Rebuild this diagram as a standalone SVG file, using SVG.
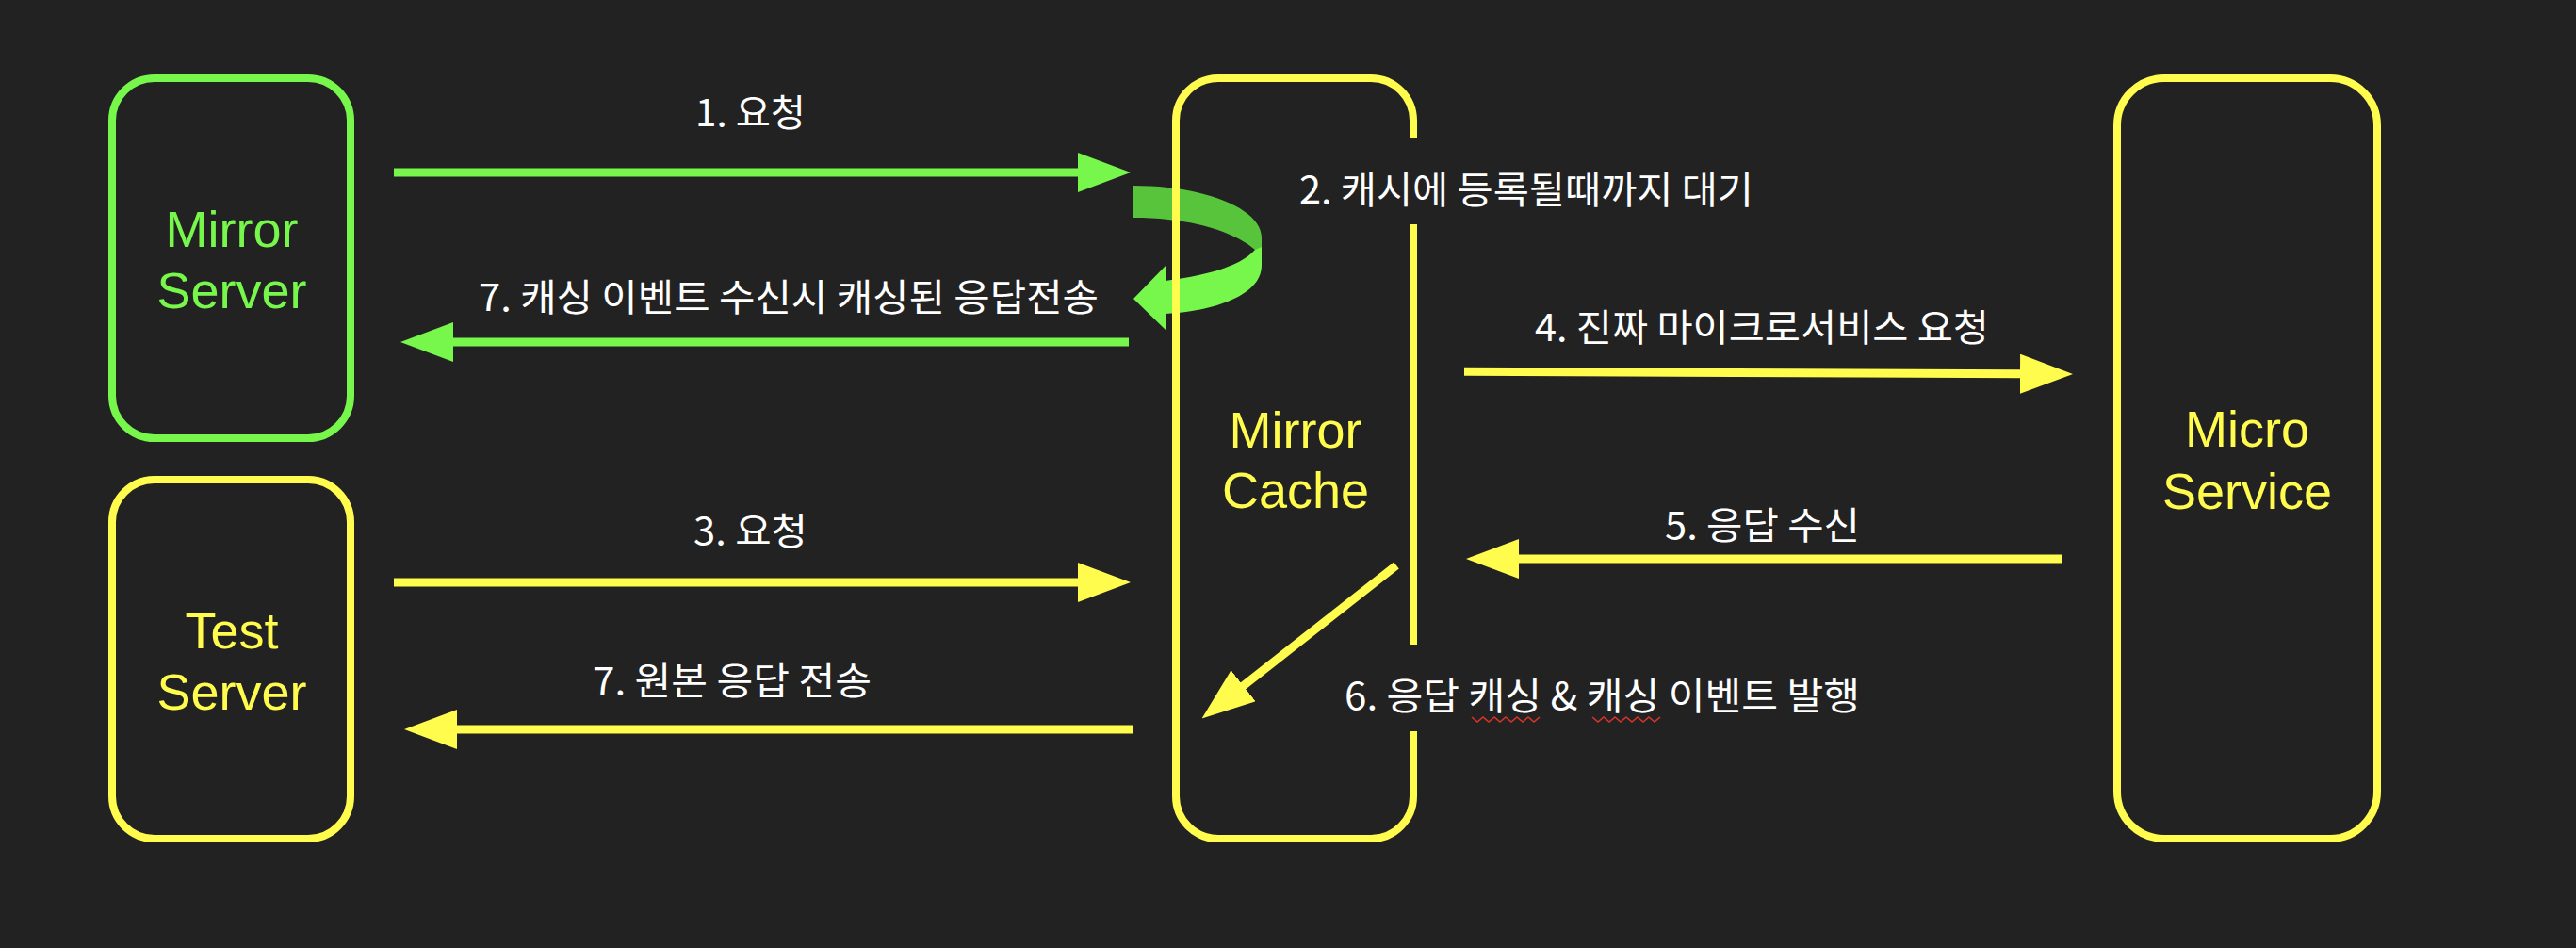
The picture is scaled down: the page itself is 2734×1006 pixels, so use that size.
<svg xmlns="http://www.w3.org/2000/svg" width="2734" height="1006" viewBox="0 0 2734 1006">
<style>
.box{fill:none;stroke-width:8}
.g{stroke:#77F74B}
.y{stroke:#FFFC4E}
.name{font-family:"Liberation Sans",Arial,sans-serif;font-size:54px;text-anchor:middle}
.ng{fill:#77F74B}
.ny{fill:#FFFC4E}
.lbl{font-family:"Noto Sans CJK KR","Noto Sans",sans-serif;font-size:40px;fill:#FFFFFF}
.ln{fill:none;stroke-width:9}
.sq{fill:none;stroke:#D4342C;stroke-width:1.6}
</style>
<defs>
<marker id="hg" viewBox="0 0 56 42" refX="2" refY="21" markerWidth="56" markerHeight="42" markerUnits="userSpaceOnUse" orient="auto"><path d="M0,0 L56,21 L0,42 Z" fill="#77F74B"/></marker>
<marker id="hy" viewBox="0 0 56 42" refX="2" refY="21" markerWidth="56" markerHeight="42" markerUnits="userSpaceOnUse" orient="auto"><path d="M0,0 L56,21 L0,42 Z" fill="#FFFC4E"/></marker>
</defs>
<rect x="0" y="0" width="2734" height="1006" fill="#222222"/>

<g id="connectors">
  <line class="ln g" x1="418" y1="183" x2="1146" y2="183" marker-end="url(#hg)"/>
  <line class="ln g" x1="1198" y1="363" x2="479" y2="363" marker-end="url(#hg)"/>
  <line class="ln y" x1="418" y1="618" x2="1146" y2="618" marker-end="url(#hy)"/>
  <line class="ln y" x1="1202" y1="774" x2="483" y2="774" marker-end="url(#hy)"/>
  <line class="ln y" x1="1554" y1="394.3" x2="2146" y2="396.7" marker-end="url(#hy)"/>
  <line class="ln y" x1="2188" y1="593" x2="1610" y2="593" marker-end="url(#hy)"/>
  <line class="ln y" x1="1482" y1="600" x2="1318" y2="729" marker-end="url(#hy)"/>
  <g id="wait-arrow">
    <path d="M1203,197 C1280,197 1339,222 1339,252 L1339,266 L1332,265 C1310,246 1265,231 1203,231 Z" fill="#58C43B"/>
    <path d="M1332,265 L1339,262 L1339,282 C1339,312 1292,330 1237,333 L1237,350 L1203,317 L1237,282 L1237,298 C1283,292 1317,282 1332,265 Z" fill="#77F74B"/>
  </g>
</g>

<g id="mirror-server">
  <rect class="box g" x="119" y="83" width="253" height="382" rx="45" ry="45"/>
  <text class="name ng" x="246" y="262">Mirror</text>
  <text class="name ng" x="246" y="327">Server</text>
</g>
<g id="test-server">
  <rect class="box y" x="119" y="509" width="253" height="381" rx="45" ry="45"/>
  <text class="name ny" x="246" y="688">Test</text>
  <text class="name ny" x="246" y="753">Server</text>
</g>
<g id="mirror-cache">
  <rect class="box y" x="1248" y="83" width="252" height="807" rx="45" ry="45"/>
  <text class="name ny" x="1375" y="475">Mirror</text>
  <text class="name ny" x="1375" y="539">Cache</text>
</g>
<g id="micro-service">
  <rect class="box y" x="2247" y="83" width="276" height="807" rx="50" ry="50"/>
  <text class="name ny" x="2385" y="474">Micro</text>
  <text class="name ny" x="2385" y="540">Service</text>
</g>

<g id="labels">
  <text class="lbl" x="738" y="134" textLength="117" lengthAdjust="spacingAndGlyphs">1. 요청</text>
  <rect x="1370" y="146" width="500" height="92" fill="#222222"/>
  <text class="lbl" x="1379" y="216" textLength="482" lengthAdjust="spacingAndGlyphs">2. 캐시에 등록될때까지 대기</text>
  <text class="lbl" x="508" y="330" textLength="658" lengthAdjust="spacingAndGlyphs">7. 캐싱 이벤트 수신시 캐싱된 응답전송</text>
  <text class="lbl" x="1629" y="362" textLength="482" lengthAdjust="spacingAndGlyphs">4. 진짜 마이크로서비스 요청</text>
  <text class="lbl" x="1767" y="572" textLength="207" lengthAdjust="spacingAndGlyphs">5. 응답 수신</text>
  <text class="lbl" x="736" y="578" textLength="121" lengthAdjust="spacingAndGlyphs">3. 요청</text>
  <text class="lbl" x="629" y="737" textLength="296" lengthAdjust="spacingAndGlyphs">7. 원본 응답 전송</text>
  <rect x="1420" y="684" width="560" height="92" fill="#222222"/>
  <text class="lbl" x="1427" y="753" textLength="547" lengthAdjust="spacingAndGlyphs">6. 응답 캐싱 &amp; 캐싱 이벤트 발행</text>
  <polyline class="sq" points="1562,761 1568,766 1574,761 1580,766 1586,761 1592,766 1598,761 1604,766 1610,761 1616,766 1622,761 1628,766 1634,761"/>
  <polyline class="sq" points="1690,761 1696,766 1702,761 1708,766 1714,761 1720,766 1726,761 1732,766 1738,761 1744,766 1750,761 1756,766 1762,761"/>
</g>
</svg>
